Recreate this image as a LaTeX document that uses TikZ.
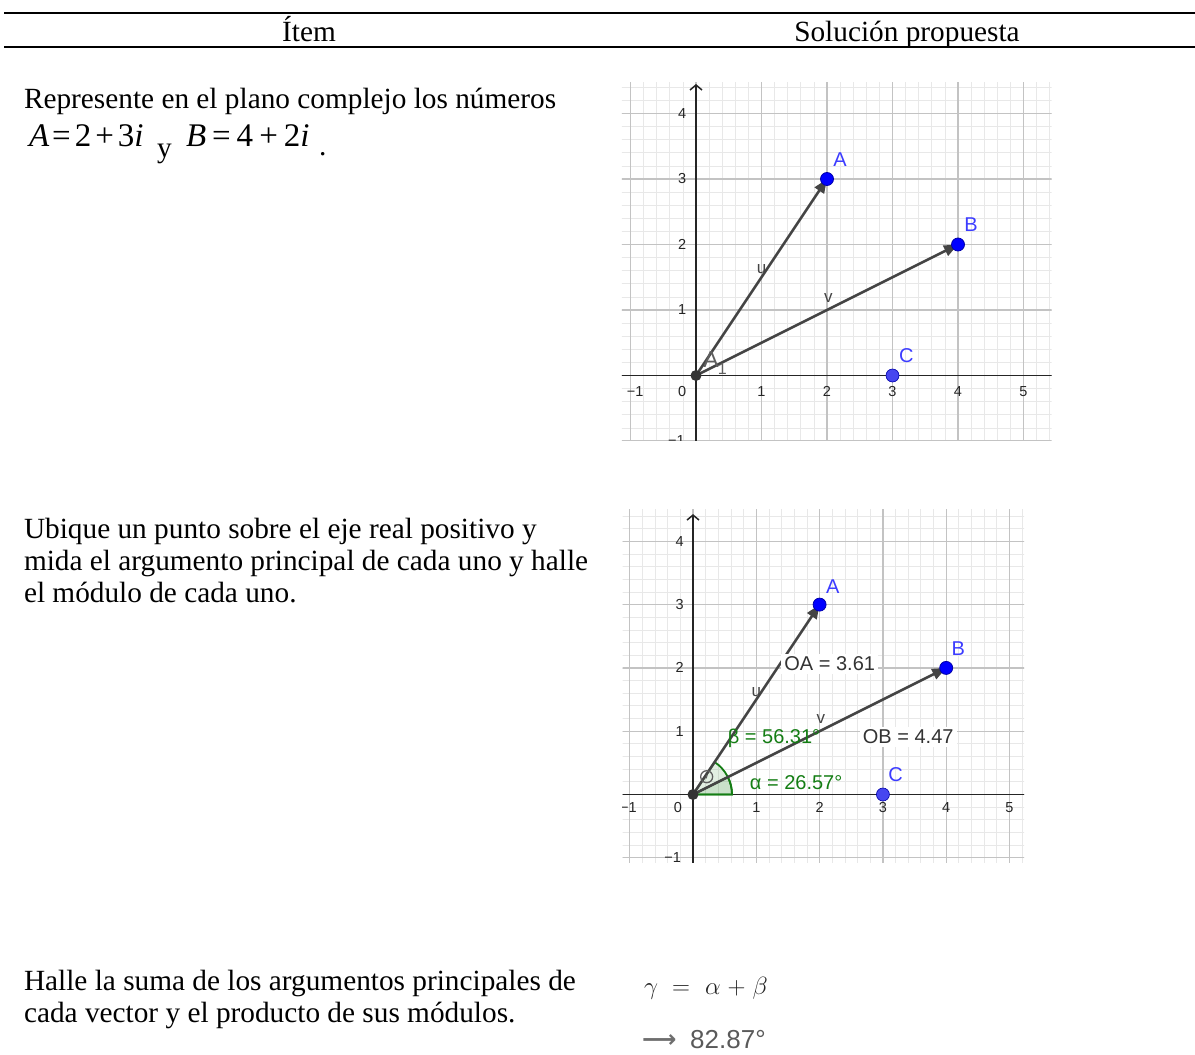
\documentclass[tikz,border=0pt]{standalone}
\usepackage{fontspec}
\setmainfont{Liberation Serif}
\setsansfont{Liberation Sans}
\newfontfamily\djv{DejaVu Sans}
\usetikzlibrary{arrows.meta}
\definecolor{gridmaj}{RGB}{195,195,195}
\definecolor{gridmin}{RGB}{232,232,232}
\definecolor{axiscol}{RGB}{37,37,37}
\definecolor{veccol}{RGB}{68,68,68}
\definecolor{ptblue}{RGB}{0,0,255}
\definecolor{ptedge}{RGB}{0,0,170}
\definecolor{ptC}{RGB}{70,70,240}
\definecolor{lblblue}{RGB}{60,60,255}
\definecolor{anggreen}{RGB}{20,125,20}
\definecolor{ggray}{RGB}{95,95,95}
\definecolor{formula}{RGB}{35,35,35}
\definecolor{resgray}{RGB}{90,90,90}
\definecolor{arrgray}{RGB}{110,110,110}
\begin{document}
\begin{tikzpicture}[x=1pt,y=-1pt,
  txt/.style={font=\fontsize{29.3}{32}\selectfont, anchor=base west, inner sep=0pt, outer sep=0pt},
  mathtxt/.style={font=\fontsize{33}{33}\selectfont, anchor=base west, inner sep=0pt, outer sep=0pt},
  ticklbl/.style={font=\sffamily\fontsize{14.5}{14.5}\selectfont, text=axiscol, inner sep=0pt},
  ptlbl/.style={font=\sffamily\fontsize{20}{20}\selectfont, text=lblblue, inner sep=0pt},
  veclbl/.style={font=\sffamily\fontsize{17}{17}\selectfont, text=veccol, inner sep=0pt},
  anglbl/.style={font=\sffamily\fontsize{20}{20}\selectfont, text=anggreen, inner sep=0pt},
  boxlbl/.style={font=\sffamily\fontsize{20}{20}\selectfont, text=black!80, fill=white, inner sep=3pt},
  minorgrid/.style={draw=gridmin, line width=0.8pt},
  majorgrid/.style={draw=gridmaj, line width=1.2pt},
  axisline/.style={draw=axiscol, line width=1.5pt},
  vec/.style={draw=veccol, line width=2.6pt, -{Triangle[length=14pt,width=11pt]}},
  bluept/.style={circle, fill=ptblue, draw=ptedge, line width=0.8pt, minimum size=13pt, inner sep=0pt},
  cpt/.style={circle, fill=ptC, draw=ptedge, line width=0.6pt, minimum size=13pt, inner sep=0pt},
  opt/.style={circle, fill=black!80, minimum size=11pt, inner sep=0pt},
  sector/.style={draw=anggreen, line width=1.8pt, fill=anggreen, fill opacity=0.12}
]
\useasboundingbox (0,0) rectangle (1195,1055);
% header rules
\coordinate (r1a) at (4,13); \coordinate (r1b) at (1195,13);
\coordinate (r2a) at (4,47); \coordinate (r2b) at (1195,47);
\draw[line width=2pt] (r1a) -- (r1b);
\draw[line width=2pt] (r2a) -- (r2b);
\node[txt, anchor=base] (h1) at (309,41) {Ítem};
\node[txt, anchor=base] (h2) at (907,41) {Solución propuesta};
% left texts
\node[txt] (t1) at (24,108) {Represente en el plano complejo los números};
\node[mathtxt] (t2a) at (29,146) {{\itshape A}\kern3pt=\kern4pt2\kern4pt+\kern4pt3{\itshape i}};
\node[txt] (t2y) at (157,157) {y};
\node[mathtxt] (t2b) at (186,146) {{\itshape B}\kern6pt=\kern6pt4\kern6pt+\kern6pt2{\itshape i}};
\node[txt] (t2d) at (319,155) {.};
\node[txt] (u1) at (24,538) {Ubique un punto sobre el eje real positivo y};
\node[txt] (u2) at (24,570) {mida el argumento principal de cada uno y halle};
\node[txt] (u3) at (24,602) {el módulo de cada uno.};
\node[txt] (s1) at (24,990) {Halle la suma de los argumentos principales de};
\node[txt] (s2) at (24,1022) {cada vector y el producto de sus módulos.};
% bottom formula
\node[anchor=base west, inner sep=0pt, text=formula, font=\fontsize{30}{30}\selectfont] (g1) at (644,994)
  {$\gamma\mkern5mu=\mkern6mu\alpha\mkern1mu+\mkern1mu\beta$};
\node[anchor=base west, inner sep=0pt, text=arrgray, font=\djv\bfseries\fontsize{24}{24}\selectfont] (g2a) at (642,1047) {⟶};
\node[anchor=base west, inner sep=0pt, text=resgray, font=\sffamily\fontsize{26}{26}\selectfont] (g2) at (690,1048) {82.87°};

% ---------- graph 1 ----------
\begin{scope}[shift={(696,375.5)}, x=65.5pt, y=65.5pt]
  \clip (-1.13,-0.985) rectangle (5.43,4.48);
  \draw[minorgrid] (-1.4,-1.4) grid[step=0.2] (5.6,4.6);
  \draw[majorgrid] (-2,-2) grid[step=1] (6,5);
  \draw[axisline] (-1.3,0) -- (5.6,0);
  \draw[axisline, -{Straight Barb[length=5pt,width=12pt,line width=1.5pt]}] (0,-1.3) -- (0,4.45);
  \node[ticklbl] (x1m) at (-0.93,-0.24) {−1};
  \node[ticklbl] (x10) at (-0.21,-0.24) {0};
  \foreach \i in {1,...,5} {\node[ticklbl] (x1\i) at (\i,-0.24) {\i};}
  \foreach \j in {1,...,4} {\node[ticklbl] (y1\j) at (-0.21,\j) {\j};}
  \node[ticklbl] (y1m) at (-0.3,-1.0) {−1};
  \coordinate (O1) at (0,0);
  \coordinate (A1) at (2,3);
  \coordinate (B1) at (4,2);
  \coordinate (C1) at (3,0);
  \draw[vec] (O1) -- (A1);
  \draw[vec] (O1) -- (B1);
  \node[veclbl] (lu1) at (1.0,1.63) {u};
  \node[veclbl] (lv1) at (2.02,1.18) {v};
  \node[font=\sffamily\fontsize{23}{23}\selectfont, text=ggray, inner sep=0pt] (lA11) at (0.23,0.25) {A};
  \node[font=\sffamily\fontsize{16}{16}\selectfont, text=ggray, inner sep=0pt] (lA12) at (0.40,0.10) {1};
  \node[opt] (pO1) at (O1) {};
  \node[bluept] (pA1) at (A1) {};
  \node[bluept] (pB1) at (B1) {};
  \node[cpt] (pC1) at (C1) {};
  \node[ptlbl] (lA1) at (2.2,3.29) {A};
  \node[ptlbl] (lB1) at (4.2,2.30) {B};
  \node[ptlbl] (lC1) at (3.21,0.30) {C};
\end{scope}

% ---------- graph 2 ----------
\begin{scope}[shift={(693,794.5)}, x=63.3pt, y=63.3pt]
  \clip (-1.11,-1.08) rectangle (5.23,4.51);
  \draw[minorgrid] (-1.4,-1.4) grid[step=0.2] (5.6,4.6);
  \draw[majorgrid] (-2,-2) grid[step=1] (6,5);
  \draw[axisline] (-1.3,0) -- (5.6,0);
  \draw[axisline, -{Straight Barb[length=5pt,width=12pt,line width=1.5pt]}] (0,-1.3) -- (0,4.43);
  \node[ticklbl] (x2m) at (-1.02,-0.21) {−1};
  \node[ticklbl] (x20) at (-0.24,-0.21) {0};
  \foreach \i in {1,...,5} {\node[ticklbl] (x2\i) at (\i,-0.21) {\i};}
  \foreach \j in {1,...,4} {\node[ticklbl] (y2\j) at (-0.21,\j) {\j};}
  \node[ticklbl] (y2m) at (-0.32,-1.0) {−1};
  \coordinate (O2) at (0,0);
  \coordinate (A2) at (2,3);
  \coordinate (B2) at (4,2);
  \coordinate (C2) at (3,0);
  \draw[sector] (O2) -- ++(0:39pt) arc[start angle=0, end angle=56.31, radius=39pt] -- cycle;
  \draw[sector] (O2) -- ++(0:39pt) arc[start angle=0, end angle=26.57, radius=39pt] -- cycle;
  \draw[vec] (O2) -- (A2);
  \draw[vec] (O2) -- (B2);
  \node[veclbl] (lu2) at (1.0,1.62) {u};
  \node[veclbl] (lv2) at (2.02,1.19) {v};
  \node[boxlbl] (oa) at (2.16,2.06) {OA = 3.61};
  \node[boxlbl] (ob) at (3.40,0.91) {OB = 4.47};
  \node[anglbl] (lbeta) at (1.28,0.89) {β = 56.31°};
  \node[anglbl] (lalpha) at (1.63,0.18) {α = 26.57°};
  \draw[ggray, line width=1.3pt] (0.216,0.281) circle[radius=6pt];
  \draw[ggray, line width=1.3pt] (0.205,0.255) -- (0.222,0.305);
  \node[opt] (pO2) at (O2) {};
  \node[bluept] (pA2) at (A2) {};
  \node[bluept] (pB2) at (B2) {};
  \node[cpt] (pC2) at (C2) {};
  \node[ptlbl] (lA2) at (2.21,3.28) {A};
  \node[ptlbl] (lB2) at (4.19,2.30) {B};
  \node[ptlbl] (lC2) at (3.20,0.31) {C};
\end{scope}
\end{tikzpicture}
\end{document}
